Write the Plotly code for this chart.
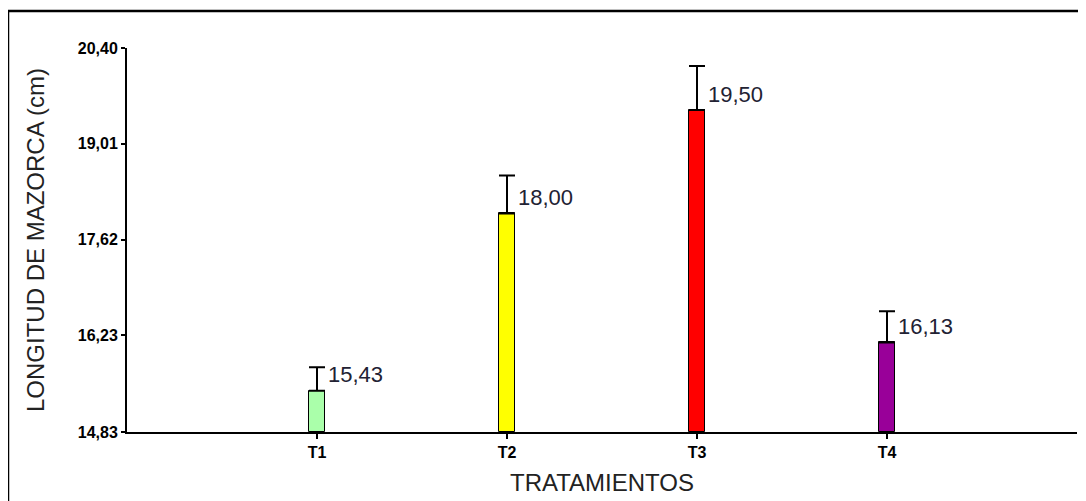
import plotly.graph_objects as go

categories = ["T1", "T2", "T3", "T4"]
means = [15.43, 18.00, 19.50, 16.13]
errors = [0.34, 0.55, 0.64, 0.45]
labels = ["15,43", "18,00", "19,50", "16,13"]
colors = ["#aaffaa", "#ffff00", "#ff0000", "#990099"]
y_ticks = [14.83, 16.23, 17.62, 19.01, 20.40]
y_ticktext = ["14,83", "16,23", "17,62", "19,01", "20,40"]

xpos = [1, 2, 3, 4]

fig = go.Figure()
fig.add_trace(go.Bar(
    x=xpos, y=[m - 14.83 for m in means], base=14.83,
    width=0.085,
    marker=dict(color=colors, line=dict(color="black", width=1)),
    error_y=dict(type="data", symmetric=False, array=errors,
                 arrayminus=[0] * len(errors), color="black",
                 thickness=2, width=8),
    hoverinfo="skip",
))

for x, m, lab in zip(xpos, means, labels):
    fig.add_annotation(x=x, y=m, text=lab, showarrow=False,
                       xanchor="left", yanchor="middle", xshift=9, yshift=16,
                       font=dict(family="Arial", size=22, color="#222233"))

L, R, T, B = 119, 17, 40, 77
W, H = 1086, 501
pw = W - L - R
ph = H - T - B

fig.add_shape(type="rect", xref="paper", yref="paper",
              x0=(0 - L) / pw, x1=(1100 - L) / pw,
              y0=(T + ph - 520) / ph, y1=(T + ph - 3) / ph,
              line=dict(color="black", width=2.5), fillcolor="rgba(0,0,0,0)")

fig.update_layout(
    width=W, height=H,
    margin=dict(l=L, r=R, t=T, b=B),
    plot_bgcolor="white", paper_bgcolor="white",
    showlegend=False,
    bargap=0,
    xaxis=dict(range=[0, 5], tickvals=xpos, ticktext=categories,
               showline=True, linecolor="black", linewidth=2,
               ticks="outside", ticklen=5, tickwidth=2, tickcolor="black",
               showgrid=False, zeroline=False,
               tickfont=dict(family="Arial", size=16, color="black", weight="bold"),
               title=dict(text="TRATAMIENTOS", standoff=14,
                          font=dict(family="Arial", size=24, color="#222222"))),
    yaxis=dict(range=[14.83, 20.40], tickvals=y_ticks, ticktext=y_ticktext,
               showline=True, linecolor="black", linewidth=2,
               ticks="outside", ticklen=4, tickwidth=1.5, tickcolor="black",
               showgrid=False, zeroline=False,
               tickfont=dict(family="Arial", size=16, color="black", weight="bold"),
               title=dict(text="LONGITUD DE MAZORCA (cm)", standoff=26,
                          font=dict(family="Arial", size=24, color="#222222"))),
)

fig.write_html("out.html")
